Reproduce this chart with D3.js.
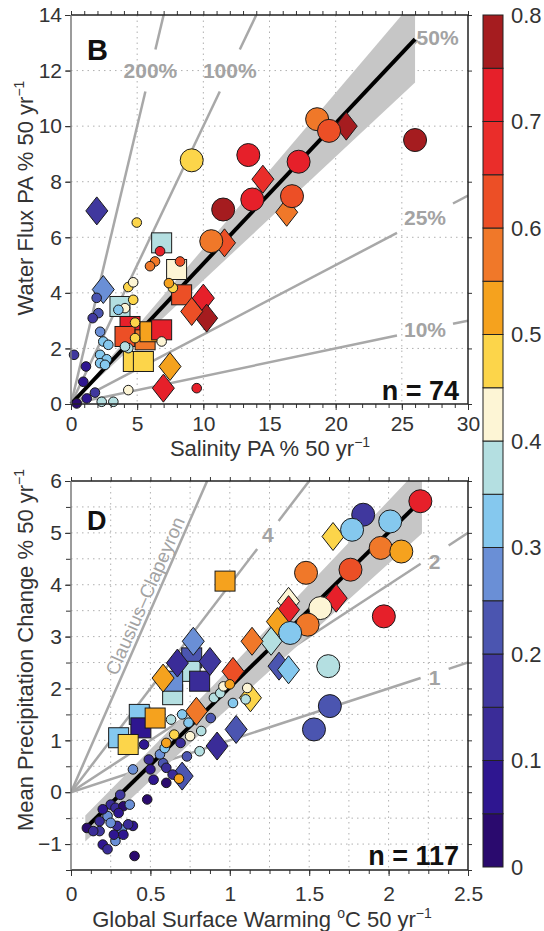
<!DOCTYPE html>
<html>
<head>
<meta charset="utf-8">
<title>Water flux and precipitation amplification</title>
<script src="https://cdn.jsdelivr.net/npm/d3@7"></script>
<style>
  body { margin: 0; background: #fff; }
  svg { display: block; font-family: "Liberation Sans", Arial, Helvetica, sans-serif; }
</style>
</head>
<body>
<svg class="chart" width="544" height="931"></svg>
<script>
// Colour bar: 16 bands of 0.05 from 0 to 0.8, lowest band first.
var bandColors = ["#2a0a6e", "#2e1690", "#3a2c98", "#40389e", "#4b55b0", "#6a8fd6", "#85c8ee", "#b4dfe1",
                  "#fdf5d5", "#fcd54a", "#f5a21e", "#f07829", "#ec4f26", "#ea2d2a", "#e6202a", "#a51c1f"];
var colorTicks = [0, 0.1, 0.2, 0.3, 0.4, 0.5, 0.6, 0.7, 0.8];

// Panel B: salinity PA (x), water flux PA (y), colour value.
var bSmall = [
  [4.97, 6.53, 0.48], [6.73, 5.50, 0.72], [6.35, 5.13, 0.58], [5.97, 4.96, 0.58], [8.24, 5.13, 0.62],
  [7.70, 4.18, 0.48], [7.40, 4.35, 0.52], [4.33, 4.21, 0.48], [4.70, 4.38, 0.42], [1.94, 3.82, 0.22],
  [2.07, 3.27, 0.22], [1.64, 3.09, 0.18], [4.08, 3.45, 0.42], [3.58, 3.39, 0.33], [4.70, 3.75, 0.48],
  [4.84, 2.93, 0.48], [4.84, 2.37, 0.48], [6.85, 2.25, 0.43], [2.20, 2.60, 0.27], [2.44, 2.25, 0.32],
  [2.82, 2.13, 0.33], [2.20, 1.77, 0.33], [2.70, 1.61, 0.32], [2.20, 1.47, 0.32], [2.57, 1.41, 0.33],
  [4.33, 2.01, 0.38], [4.08, 2.07, 0.37], [9.50, 0.57, 0.72], [4.33, 0.50, 0.43], [2.32, 0.08, 0.37],
  [3.20, 0.08, 0.37], [0.23, 1.77, 0.17], [1.13, 1.35, 0.07], [0.93, 0.80, 0.07], [1.81, 0.41, 0.17],
  [1.19, 0.20, 0.07], [0.43, 0.02, 0.03]
];
var bCircle = [
  [9.12, 8.77, 0.47], [13.4, 8.96, 0.72], [11.5, 7.00, 0.77], [13.7, 7.36, 0.72], [18.6, 10.25, 0.57],
  [19.5, 9.83, 0.62], [26.0, 9.50, 0.77], [17.2, 8.72, 0.72], [16.7, 7.48, 0.62], [10.6, 5.86, 0.58]
];
var bDiamond = [
  [1.95, 6.95, 0.18], [14.5, 8.09, 0.67], [20.8, 10.0, 0.77], [16.3, 6.90, 0.58], [11.6, 5.80, 0.62],
  [2.44, 4.12, 0.27], [7.48, 1.35, 0.53], [6.98, 0.57, 0.72], [10.0, 3.81, 0.72], [10.25, 3.09, 0.77],
  [9.12, 3.33, 0.62]
];
var bSquare = [
  [6.85, 5.80, 0.37], [7.98, 4.84, 0.42], [3.70, 3.51, 0.37], [4.46, 2.79, 0.72], [4.08, 2.43, 0.62],
  [5.60, 2.31, 0.57], [5.97, 2.60, 0.53], [6.85, 2.67, 0.72], [4.71, 1.53, 0.48], [5.47, 1.53, 0.48],
  [8.36, 3.93, 0.62]
];
var bXTicks = [0, 5, 10, 15, 20, 25, 30];
var bYTicks = [0, 2, 4, 6, 8, 10, 12, 14];
var bRaySlopes = [2, 1, 0.5, 0.25, 0.1];
var bRayLabels = ["200%", "100%", "50%", "25%", "10%"];
var bRayLabelAt = [[6, 12], [12, 12], [27.7, 13.2], [26.75, 6.69], [26.75, 2.67]];
var bFit = [[0, 0], [26, 13.13]];
var bBandX = [0, 26];
var bBandLo = [0, 11.57];
var bBandHi = [0, 14.56];

// Panel D: global surface warming (x), mean precipitation change (y), colour value.
var dSmall = [
  [0.10, -0.69, 0.03], [0.18, -0.56, 0.12], [0.23, -0.46, 0.28], [0.18, -0.75, 0.17], [0.25, -0.24, 0.12],
  [0.31, -0.05, 0.17], [0.28, -0.30, 0.12], [0.33, -0.27, 0.03], [0.37, -0.24, 0.27], [0.20, -1.01, 0.07],
  [0.23, -1.10, 0.12], [0.28, -0.94, 0.28], [0.32, -0.72, 0.27], [0.29, -0.65, 0.12], [0.27, -0.82, 0.07],
  [0.33, -0.82, 0.07], [0.39, -0.65, 0.07], [0.40, -1.23, 0.03], [0.14, -0.75, 0.12], [0.30, -0.40, 0.07],
  [0.20, -0.33, 0.07], [0.36, -0.62, 0.12], [0.25, -0.59, 0.27], [0.48, -0.14, 0.03], [0.52, 0.24, 0.07],
  [0.60, 0.18, 0.03], [0.50, 0.44, 0.07], [0.46, 0.92, 0.07], [0.49, 0.63, 0.12], [0.39, 0.44, 0.27],
  [0.58, 0.56, 0.22], [0.60, 0.47, 0.12], [0.64, 0.34, 0.12], [0.56, 0.73, 0.28], [0.59, 0.85, 0.32],
  [0.60, 0.95, 0.52], [0.65, 1.11, 0.47], [0.69, 0.95, 0.12], [0.63, 1.40, 0.37], [0.70, 1.50, 0.32],
  [0.74, 1.34, 0.32], [0.75, 1.08, 0.42], [0.73, 0.69, 0.22], [0.81, 0.79, 0.37], [0.82, 1.18, 0.37],
  [0.88, 1.43, 0.22], [0.90, 1.82, 0.37], [0.94, 1.91, 0.38], [1.02, 1.72, 0.32], [1.10, 1.79, 0.37],
  [1.11, 2.01, 0.42], [0.96, 2.04, 0.43], [1.00, 2.08, 0.52], [0.68, 0.26, 0.52]
];
var dCircle = [
  [2.20, 5.61, 0.72], [1.84, 5.35, 0.17], [1.77, 5.06, 0.33], [2.01, 5.22, 0.33], [1.95, 4.71, 0.57],
  [2.08, 4.64, 0.52], [1.48, 4.23, 0.57], [1.76, 4.29, 0.62], [1.57, 3.55, 0.42], [1.97, 3.39, 0.72],
  [1.49, 3.23, 0.57], [1.38, 3.07, 0.33], [1.62, 2.43, 0.38], [1.63, 1.66, 0.23], [1.53, 1.21, 0.22]
];
var dDiamond = [
  [1.65, 4.93, 0.48], [1.67, 3.74, 0.72], [1.37, 3.68, 0.42], [1.37, 3.52, 0.72], [1.30, 3.29, 0.53],
  [1.26, 2.91, 0.37], [1.14, 2.91, 0.57], [1.31, 2.43, 0.22], [1.37, 2.36, 0.32], [0.77, 2.91, 0.27],
  [0.875, 2.52, 0.17], [1.02, 2.33, 0.62], [0.58, 2.20, 0.52], [0.67, 2.49, 0.12], [0.79, 1.56, 0.57],
  [1.13, 1.82, 0.48], [0.92, 0.89, 0.12], [1.04, 1.21, 0.23], [0.70, 0.31, 0.22]
];
var dSquare = [
  [0.97, 4.07, 0.53], [0.76, 2.59, 0.23], [0.75, 2.33, 0.37], [0.64, 1.88, 0.37], [0.81, 2.14, 0.12],
  [0.64, 2.14, 0.27], [0.43, 1.50, 0.33], [0.44, 1.24, 0.07], [0.53, 1.43, 0.53], [0.30, 1.05, 0.32],
  [0.36, 0.92, 0.48]
];
var dXTicks = [0, 0.5, 1, 1.5, 2, 2.5];
var dYTicks = [-1, 0, 1, 2, 3, 4, 5, 6];
var dRaySlopes = [7, 4, 2, 1];
var dRayLabels = ["Clausius\u2013Clapeyron", "4", "2", "1"];
var dRayLabelAt = [[0.53, 3.7], [1.24, 4.96], [2.29, 4.45], [2.29, 2.2]];
var dFit = [[0.09, -0.7], [2.2, 5.61]];
var dBandX = [0.09, 0.9, 2.21];
var dBandLo = [-0.95, 1.37, 4.99];
var dBandHi = [-0.45, 2.07, 6.3];

var svg = d3.select(".chart");
var plotLeft = 71, plotRight = 468;
var color = d3.scaleQuantize().domain([0, 0.8]).range(bandColors);

function diamond(w, h) {
  return "M0," + (-h) + "L" + w + ",0L0," + h + "L" + (-w) + ",0Z";
}

// Writes a title made of plain and superscript parts into a text element.
function addParts(text, parts) {
  var raised = false;
  parts.forEach(function (p) {
    var sup = !!p[1];
    var t = text.append("tspan").text(p[0]);
    if (sup && !raised) t.attr("dy", -9).attr("font-size", 14);
    if (!sup && raised) t.attr("dy", 9);
    raised = sup;
  });
}

var panels = [{
  id: "b", letter: "B", letterSize: 29, letterY: 60, n: "n = 74", nY: 400,
  top: 15, bottom: 404, xDomain: [0, 30], yDomain: [0, 14], xPad: 6,
  xTicks: bXTicks, yTicks: bYTicks, xMinor: d3.range(0, 31, 1), yMinor: bYTicks,
  xGrid: [5, 10, 15, 20, 25], yGrid: [2, 4, 6, 8, 10, 12],
  small: bSmall, circle: bCircle, diamond: bDiamond, square: bSquare,
  rays: bRaySlopes, rayLabels: bRayLabels, rayLabelAt: bRayLabelAt, gapV: 21, gapH: 28,
  fit: bFit, bandX: bBandX, bandLo: bBandLo, bandHi: bBandHi,
  xFormat: d3.format("d"), yFormat: d3.format("d"),
  xTitle: [["Salinity PA % 50 yr"], ["\u22121", 1]], xTitleX: 270, xTitleY: 456,
  yTitle: [["Water Flux PA % 50 yr"], ["\u22121", 1]], yTitleY: 198
}, {
  id: "d", letter: "D", letterSize: 27, letterY: 530, n: "n = 117", nY: 865,
  top: 481, bottom: 870, xDomain: [0, 2.5], yDomain: [-1.5, 6], xPad: 10,
  xTicks: dXTicks, yTicks: dYTicks, xMinor: d3.range(0, 2.501, 0.125), yMinor: d3.range(-1.5, 6.01, 0.5),
  xGrid: d3.range(0.25, 2.5, 0.25), yGrid: d3.range(-1, 6, 0.5),
  small: dSmall, circle: dCircle, diamond: dDiamond, square: dSquare,
  rays: dRaySlopes, rayLabels: dRayLabels, rayLabelAt: dRayLabelAt, gapV: 14, gapH: 14,
  fit: dFit, bandX: dBandX, bandLo: dBandLo, bandHi: dBandHi,
  xFormat: function (d) { return String(d); },
  yFormat: function (d) { return d < 0 ? "\u2212" + Math.abs(d) : String(d); },
  xTitle: [["Global Surface Warming "], ["o", 1], ["C 50 yr"], ["\u22121", 1]], xTitleX: 262, xTitleY: 927,
  yTitle: [["Mean Precipitation Change % 50 yr"], ["\u22121", 1]], yTitleY: 650
}];

panels.forEach(function (c) {
  var x = d3.scaleLinear().domain(c.xDomain).range([plotLeft, plotRight]);
  var y = d3.scaleLinear().domain(c.yDomain).range([c.bottom, c.top]);
  var g = svg.append("g");

  g.append("clipPath").attr("id", "clip-" + c.id)
    .append("rect")
    .attr("x", plotLeft).attr("y", c.top)
    .attr("width", plotRight - plotLeft).attr("height", c.bottom - c.top);

  // Dotted grid.
  var grid = g.append("g").attr("stroke", "#b0b0b0").attr("stroke-dasharray", "1.5,4");
  grid.selectAll(".gx").data(c.xGrid).enter().append("line")
    .attr("x1", function (d) { return x(d); }).attr("x2", function (d) { return x(d); })
    .attr("y1", c.top).attr("y2", c.bottom);
  grid.selectAll(".gy").data(c.yGrid).enter().append("line")
    .attr("y1", function (d) { return y(d); }).attr("y2", function (d) { return y(d); })
    .attr("x1", plotLeft).attr("x2", plotRight);

  // Grey reference lines from the origin, broken where their label sits.
  var rays = g.append("g").attr("clip-path", "url(#clip-" + c.id + ")");
  var labels = g.append("g").attr("fill", "#a3a3a3").attr("font-weight", "bold").attr("font-size", 21);
  c.rays.forEach(function (s, i) {
    var xEnd = Math.min(c.xDomain[1], c.yDomain[1] / s);
    var x0 = x(0), y0 = y(0);
    var dx = x(xEnd) - x0, dy = y(xEnd * s) - y0;
    var len = Math.sqrt(dx * dx + dy * dy), ux = dx / len, uy = dy / len;
    var at = c.rayLabelAt[i];
    if (i === 0 && c.id === "d") {
      // Clausius-Clapeyron: unbroken line, label written along it
      rays.append("line").attr("x1", x0).attr("y1", y0).attr("x2", x0 + dx).attr("y2", y0 + dy)
        .attr("stroke", "#a8a8a8").attr("stroke-width", 2.5);
      var ang = Math.atan2(uy, ux) * 180 / Math.PI;
      var px = x(at[0]) + uy * 11, py = y(at[1]) - ux * 11;
      g.append("text")
        .attr("transform", "translate(" + px + "," + py + ") rotate(" + ang + ")")
        .attr("text-anchor", "middle").attr("dy", "0.35em")
        .attr("font-size", 19).attr("fill", "#a3a3a3")
        .text(c.rayLabels[i]);
      return;
    }
    var tc = (x(at[0]) - x0) / ux;
    var gap = Math.min(c.gapV / Math.abs(uy), c.gapH / Math.abs(ux));
    var segs = [[0, Math.min(tc - gap, len)]];
    if (tc + gap < len) segs.push([tc + gap, len]);
    segs.forEach(function (sg) {
      rays.append("line")
        .attr("x1", x0 + ux * sg[0]).attr("y1", y0 + uy * sg[0])
        .attr("x2", x0 + ux * sg[1]).attr("y2", y0 + uy * sg[1])
        .attr("stroke", "#a8a8a8").attr("stroke-width", 2.5);
    });
    labels.append("text")
      .attr("x", x(at[0])).attr("y", y(at[1]))
      .attr("text-anchor", "middle").attr("dy", "0.35em")
      .text(c.rayLabels[i]);
  });

  // Uncertainty band and fitted line.
  var band = d3.area()
    .x(function (d, i) { return x(c.bandX[i]); })
    .y0(function (d, i) { return y(c.bandLo[i]); })
    .y1(function (d, i) { return y(c.bandHi[i]); });
  g.append("path").datum(c.bandX)
    .attr("clip-path", "url(#clip-" + c.id + ")")
    .attr("d", band).attr("fill", "#c6c6c6");
  g.append("path").datum(c.fit)
    .attr("d", d3.line().x(function (d) { return x(d[0]); }).y(function (d) { return y(d[1]); }))
    .attr("stroke", "#000").attr("stroke-width", 4).attr("fill", "none");

  // Markers: squares, diamonds, large circles, small circles.
  var pts = g.append("g").attr("stroke", "#1a1a1a").attr("stroke-width", 1);
  pts.selectAll(".sq").data(c.square).enter().append("rect")
    .attr("x", function (d) { return x(d[0]) - 10; })
    .attr("y", function (d) { return y(d[1]) - 10; })
    .attr("width", 20).attr("height", 20)
    .attr("fill", function (d) { return color(d[2]); });
  pts.selectAll(".dm").data(c.diamond).enter().append("path")
    .attr("d", diamond(11, 14))
    .attr("transform", function (d) { return "translate(" + x(d[0]) + "," + y(d[1]) + ")"; })
    .attr("fill", function (d) { return color(d[2]); });
  pts.selectAll(".bc").data(c.circle).enter().append("circle")
    .attr("cx", function (d) { return x(d[0]); })
    .attr("cy", function (d) { return y(d[1]); })
    .attr("r", 11.5)
    .attr("fill", function (d) { return color(d[2]); });
  pts.selectAll(".scc").data(c.small).enter().append("circle")
    .attr("cx", function (d) { return x(d[0]); })
    .attr("cy", function (d) { return y(d[1]); })
    .attr("r", 4.8)
    .attr("fill", function (d) { return color(d[2]); });

  // Axes: ticks through d3, frame drawn by hand.
  function style(sel) {
    sel.select(".domain").remove();
    sel.attr("font-size", 21).attr("font-family", null);
    sel.selectAll("line").attr("stroke", "#333");
    sel.selectAll("text").attr("fill", "#333");
  }
  g.append("g").attr("transform", "translate(0," + c.bottom + ")")
    .call(d3.axisBottom(x).tickValues(c.xMinor).tickSize(4).tickFormat("")).call(style);
  g.append("g").attr("transform", "translate(0," + c.bottom + ")")
    .call(d3.axisBottom(x).tickValues(c.xTicks).tickSize(6).tickPadding(c.xPad).tickFormat(c.xFormat)).call(style);
  g.append("g").attr("transform", "translate(0," + c.top + ")")
    .call(d3.axisTop(x).tickValues(c.xMinor).tickSize(4).tickFormat("")).call(style);
  g.append("g").attr("transform", "translate(" + plotLeft + ",0)")
    .call(d3.axisLeft(y).tickValues(c.yMinor).tickSize(5).tickFormat("")).call(style);
  g.append("g").attr("transform", "translate(" + plotLeft + ",0)")
    .call(d3.axisLeft(y).tickValues(c.yTicks).tickSize(6).tickPadding(3).tickFormat(c.yFormat)).call(style);
  g.append("g").attr("transform", "translate(" + plotRight + ",0)")
    .call(d3.axisRight(y).tickValues(c.yMinor).tickSize(4).tickFormat("")).call(style);

  var frame = g.append("g").attr("fill", "none").attr("stroke-width", 1.5);
  frame.append("path").attr("stroke", "#222")
    .attr("d", "M" + plotLeft + "," + c.top + "H" + plotRight + "V" + c.bottom + "H" + plotLeft);
  frame.append("line").attr("stroke", "#7a7a7a")
    .attr("x1", plotLeft).attr("x2", plotLeft).attr("y1", c.top).attr("y2", c.bottom);

  // Panel letter and sample count.
  g.append("text").attr("x", 87).attr("y", c.letterY)
    .attr("font-size", c.letterSize).attr("font-weight", "bold").attr("fill", "#111")
    .text(c.letter);
  g.append("text").attr("x", 459).attr("y", c.nY).attr("text-anchor", "end")
    .attr("font-size", 27).attr("font-weight", "bold").attr("fill", "#111")
    .text(c.n);

  // Axis titles.
  var xt = g.append("text").attr("x", c.xTitleX).attr("y", c.xTitleY)
    .attr("text-anchor", "middle").attr("font-size", 22).attr("fill", "#333");
  addParts(xt, c.xTitle);
  var yt = g.append("text")
    .attr("transform", "translate(33," + c.yTitleY + ") rotate(-90)")
    .attr("text-anchor", "middle").attr("font-size", 22).attr("fill", "#333");
  addParts(yt, c.yTitle);
});

// Colour bar spanning both panels.
var cbX = 483, cbW = 20;
var cy = d3.scaleLinear().domain([0, 0.8]).range([867, 15]);
var cb = svg.append("g");
cb.selectAll("rect").data(bandColors).enter().append("rect")
  .attr("x", cbX).attr("width", cbW)
  .attr("y", function (d) { return cy(color.invertExtent(d)[1]); })
  .attr("height", function (d) { var e = color.invertExtent(d); return cy(e[0]) - cy(e[1]); })
  .attr("fill", function (d) { return d; })
  .attr("stroke", "#222").attr("stroke-width", 1);
cb.append("g").attr("transform", "translate(" + (cbX + cbW) + ",0)")
  .call(d3.axisRight(cy).tickValues(colorTicks).tickSize(0).tickPadding(8)
    .tickFormat(function (d) { return d === 0 ? "0" : d3.format(".1f")(d); }))
  .call(function (sel) {
    sel.select(".domain").remove();
    sel.attr("font-size", 22).attr("font-family", null);
    sel.selectAll("text").attr("fill", "#333");
  });
</script>
</body>
</html>
